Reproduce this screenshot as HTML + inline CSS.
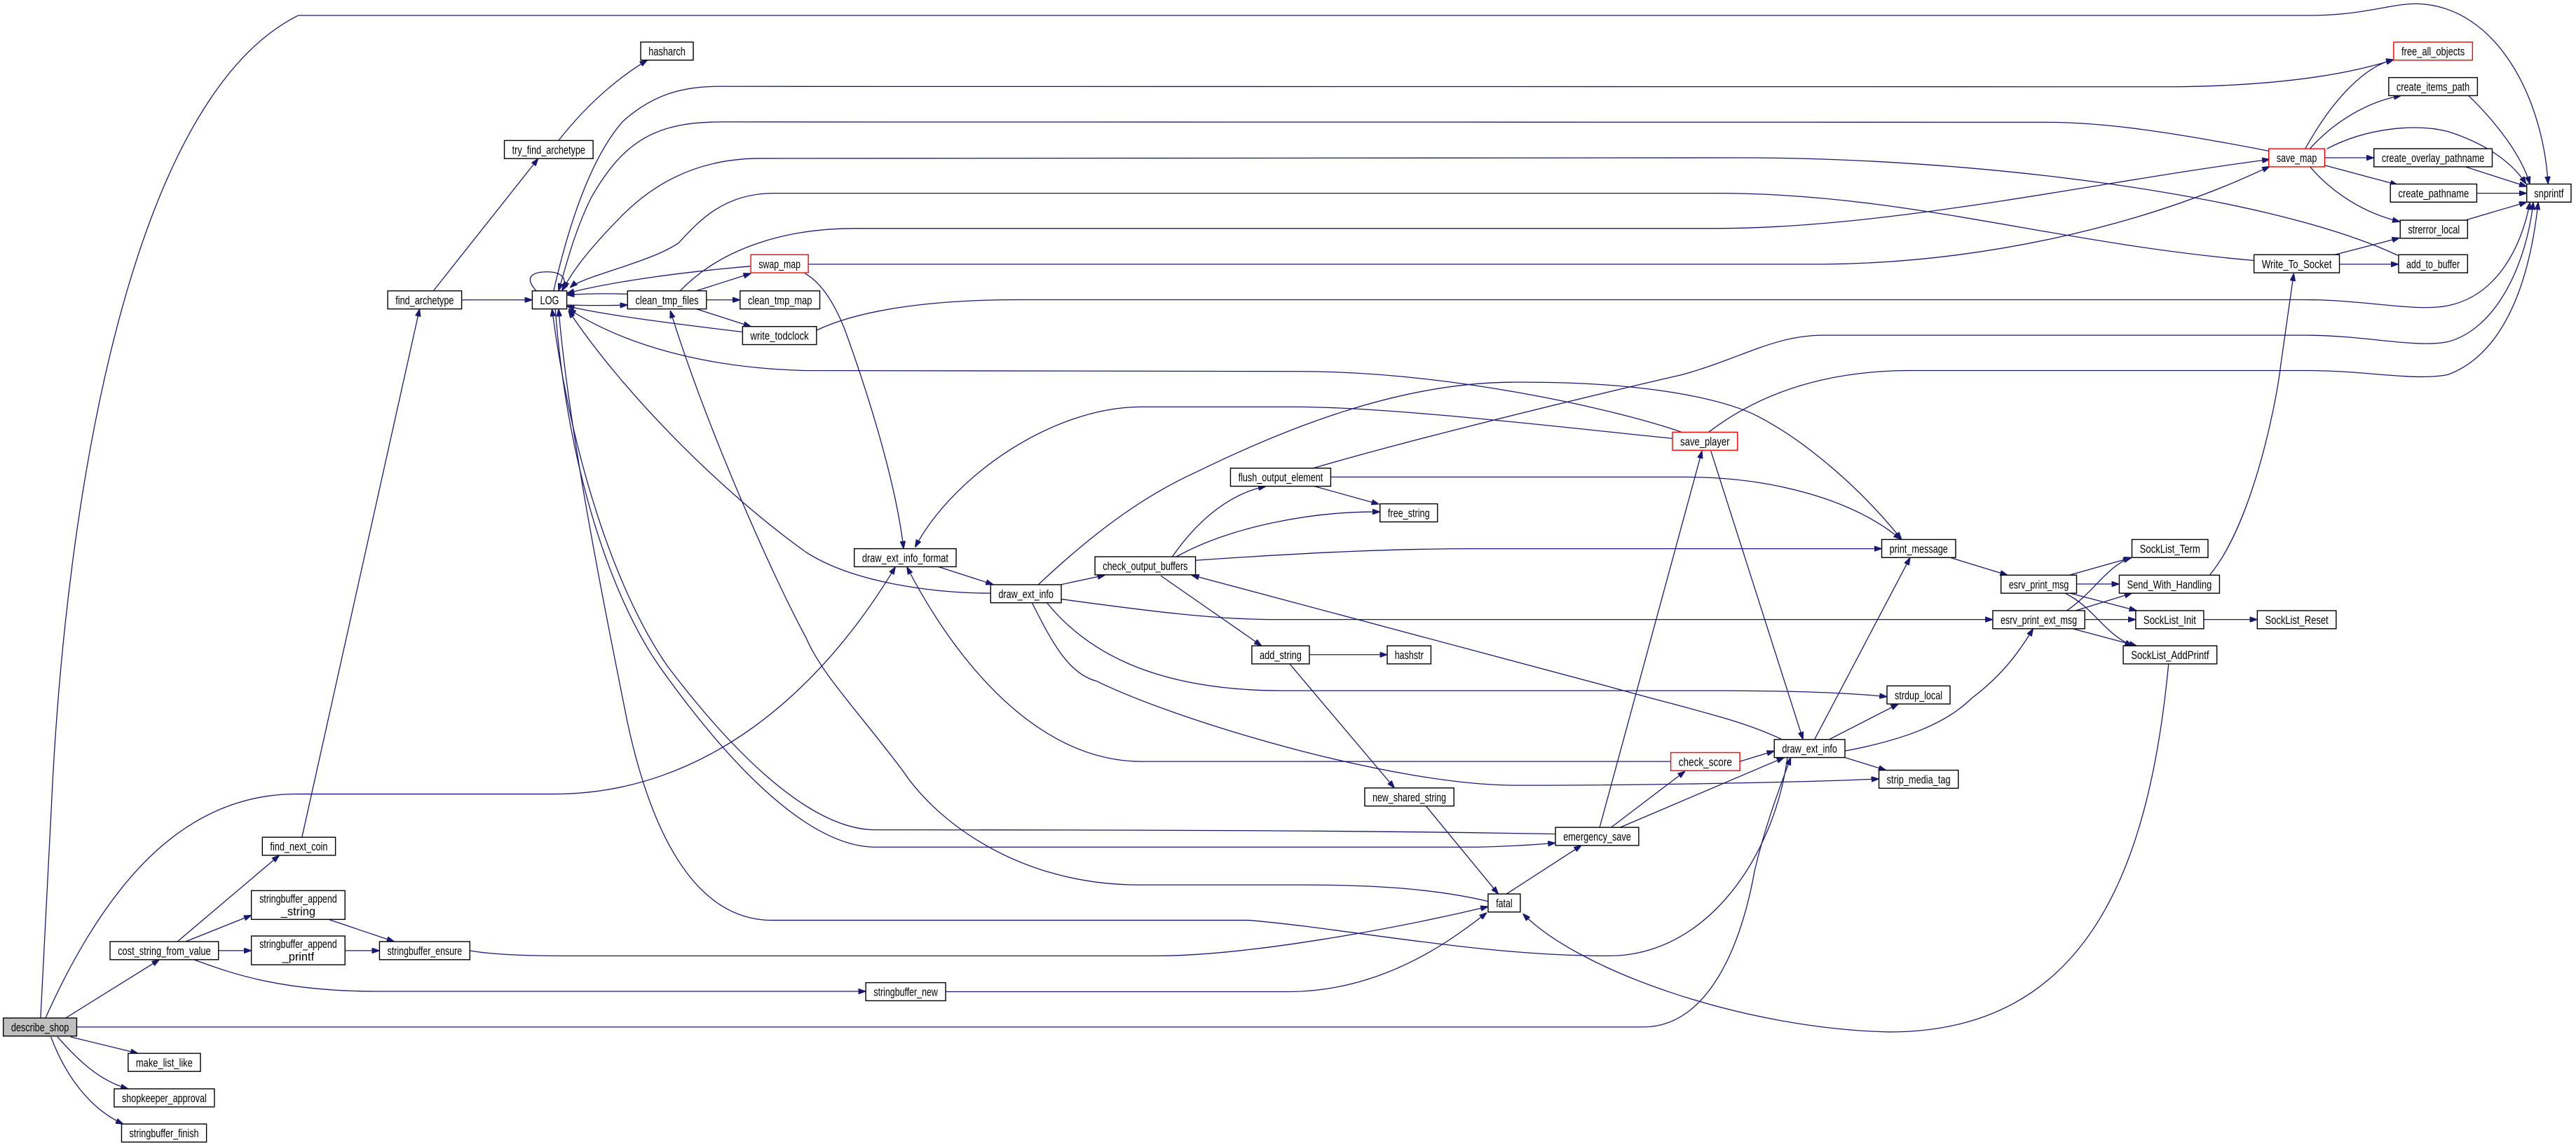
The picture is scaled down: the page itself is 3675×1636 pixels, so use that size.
<!DOCTYPE html>
<html><head><meta charset="utf-8"><style>
html,body{margin:0;padding:0;background:#fff;}
svg{display:block;}
text{font-family:"Liberation Sans",sans-serif;font-size:7px;fill:#000;}
.e{fill:none;stroke:#191970;stroke-width:0.55;marker-end:url(#a);}
.n{fill:#fff;stroke:#000;stroke-width:0.6;}
.r{fill:#fff;stroke:#ff0000;stroke-width:0.6;}
</style></head><body>
<svg width="3675" height="1636" viewBox="0 0 1568 698" preserveAspectRatio="none" xmlns="http://www.w3.org/2000/svg">
<defs><marker id="a" markerUnits="userSpaceOnUse" markerWidth="4.6" markerHeight="3.4" viewBox="0 0 10 7" refX="10" refY="3.5" orient="auto"><path d="M0,0 L10,3.5 L0,7 z" fill="#191970" stroke="#191970"/></marker></defs>
<rect x="0" y="0" width="1568" height="698" fill="#fff"/>
<g>
<path class="e" d="M24.7,619.5 L31.3,490.6 C40,300 80,60 181.5,9.4 L1405,9.4 C1440,9.4 1455,2 1471.6,2.3 C1520,4 1548,60 1551,112"/>
<path class="e" d="M27.7,619.5 C70,525 120,483 181,483.2 L337.7,483.2 C430,483 500,420 545,345"/>
<path class="e" d="M40,619.5 L97,584"/>
<path class="e" d="M46.7,625 L1000,625 C1040,625 1060,575 1068,530 C1075,500 1085,475 1090,461"/>
<path class="e" d="M43,631 L84,641"/>
<path class="e" d="M35,631 C50,648 62,658 78,662.6"/>
<path class="e" d="M31,631 C40,655 55,675 75,684"/>
<path class="e" d="M108,573 L170,520.5"/>
<path class="e" d="M113,573 L153,557"/>
<path class="e" d="M133,578.5 L153,578.5"/>
<path class="e" d="M118,584 C140,592 170,603.3 230,603.3 L527,603.3"/>
<path class="e" d="M200,559.5 L240,573"/>
<path class="e" d="M210,578.5 L231,578.5"/>
<path class="e" d="M286,578.5 C300,581 320,581.7 350,581.7 L703,581.7 C760,581.7 850,565 905.8,551.7"/>
<path class="e" d="M575.6,603.5 L785,603.5 C840,603 880,575 905,555.4"/>
<path class="e" d="M868,490.5 L912,544"/>
<path class="e" d="M917,544 L962.6,514.5"/>
<path class="e" d="M905.8,548.5 C870,540 830,538.5 792,538.5 L692,538.5 C620,538 570,500 549.5,469 C520,430 500,410 490.6,388 C470,350 430,260 408,189"/>
<path class="e" d="M183.8,509.5 L255.4,188"/>
<path class="e" d="M263.8,177 L327.6,96.5"/>
<path class="e" d="M340,85.5 C360,60 380,45 394,36.6"/>
<path class="e" d="M281,182.5 L324,182.5"/>
<path class="e" d="M326.5,177 C318,168 325,165 335,165.5 C342,166 346,170 342,177"/>
<path class="e" d="M382.5,179 C370,178.5 355,178.7 345,179.5"/>
<path class="e" d="M345,185.6 C360,186 370,186 382,185.6"/>
<path class="e" d="M423.8,177 L457.1,166.4"/>
<path class="e" d="M430,182.5 L450.5,182.5"/>
<path class="e" d="M423.8,188 L457.1,198.7"/>
<path class="e" d="M452,202 C410,197 370,192 345,186.3"/>
<path class="e" d="M457,162 C410,166 370,172 345,178.5"/>
<path class="e" d="M492,160.8 L1110,160.8 C1200,160 1300,140 1381.5,101.3"/>
<path class="e" d="M490,166.4 C500,172 508,185 514,200 C525,230 545,290 550,333.9"/>
<path class="e" d="M414,177 C440,150 480,139 520,139 L1045,139 C1150,139 1280,110 1381.5,97"/>
<path class="e" d="M337,177 C350,120 365,90 379,74 C400,55 420,52 445,52.6 L1325,52.8 C1390,52 1430,45 1457,36.3"/>
<path class="e" d="M1381.5,92 C1320,80 1280,74.4 1246,74.4 L440,74.2 C400,74 380,85 360,120 C350,140 345,160 340,177"/>
<path class="e" d="M1459.5,155.4 C1380,118 1200,96 1060,96 L461,96.4 C420,97 395,115 379,130.8 C360,150 348,165 343,176"/>
<path class="e" d="M1371.8,158.5 C1250,148 1160,117.6 1045,117.6 L470,117.6 C440,118 425,135 413,147.9 C395,160 355,168 347,175"/>
<path class="e" d="M497,201 C520,190 560,182.4 620,182.4 L1403,182.4 C1440,182.4 1470,190 1490,186 C1520,180 1535,150 1540,123"/>
<path class="e" d="M799,285 C850,270 950,245 1024,228 C1060,218 1080,204 1110,204 L1403,204 C1440,204 1470,212 1490,208 C1520,200 1538,160 1542,123"/>
<path class="e" d="M1040,263 C1070,240 1110,225.5 1163,225.5 L1405,225.5 C1440,225.5 1470,232 1490,228 C1525,215 1540,170 1545,123"/>
<path class="e" d="M1023.7,263 C980,248 880,226 790,226 L490,225.5 C430,224 380,210 346,188"/>
<path class="e" d="M1019.6,267 C950,260 850,248 790,247.6 L694,247.6 C640,248 580,290 557,333"/>
<path class="e" d="M1041.4,274.4 L1097.5,450"/>
<path class="e" d="M973.7,503.5 L1036,274.4"/>
<path class="e" d="M980.7,503.5 L1025.7,469.3"/>
<path class="e" d="M986.2,503.5 L1086,461"/>
<path class="e" d="M1059,463.4 L1080,457"/>
<path class="e" d="M1017,463.4 L694.6,463.4 C620,463 570,380 552,345"/>
<path class="e" d="M570.5,344.7 L604.6,355.7"/>
<path class="e" d="M646,355.7 L672.6,350"/>
<path class="e" d="M603,361 C570,361 520,355 490.6,336 C440,300 380,240 346,189"/>
<path class="e" d="M632,355.8 C670,320 700,300 728.7,287 C780,262 850,233 920,232.6 C990,232 1040,240 1066.7,251.7 C1100,268 1135,300 1157.5,328.3"/>
<path class="e" d="M646,364.6 C700,372 740,377 776,377 L1213,377"/>
<path class="e" d="M637,366.5 C660,395 700,420 780,420.3 L1050,420.3 C1100,420.5 1130,422 1148.6,424"/>
<path class="e" d="M628,366.5 C640,390 650,410 667.5,414.5 C720,440 850,478 922.6,477.9 C1000,478 1100,476 1143.7,474"/>
<path class="e" d="M713.6,338.8 C730,315 750,300 770.5,296"/>
<path class="e" d="M716,338.8 C750,320 800,311 840,311.5"/>
<path class="e" d="M799.6,295.8 L839.4,306.8"/>
<path class="e" d="M727.7,341 C800,336 850,333.9 900,333.9 L1145.4,333.9"/>
<path class="e" d="M706.6,350.4 L767.9,393"/>
<path class="e" d="M797,398.4 L844.4,398.4"/>
<path class="e" d="M785,404 L848.8,479.5"/>
<path class="e" d="M1084.7,450 C1060,438 1030,432 980,418 L725.3,350"/>
<path class="e" d="M810,290.3 L1024,290.3 C1080,290 1130,305 1157,328.3"/>
<path class="e" d="M1088,461 C1080,520 1040,581.7 979,581.7 C900,581.7 820,565 760,560 L470,560 C420,560 395,500 382,440 C366,360 346,260 340,188"/>
<path class="e" d="M338,188 C345,280 370,360 401,405 C440,460 490,515.5 533,515.5 L900,515.5 C920,515 935,514 946.8,513"/>
<path class="e" d="M946.8,507.5 C900,507 850,505 533,505 C490,505 440,450 406,405 C375,360 348,280 336,188"/>
<path class="e" d="M1104.5,450 L1162.7,339.3"/>
<path class="e" d="M1113.4,450 L1155.5,428.4"/>
<path class="e" d="M1123,461 L1148,468.7"/>
<path class="e" d="M1123,457 C1160,450 1185,440 1200,425 C1220,410 1230,395 1237.6,382.6"/>
<path class="e" d="M1187,339.3 L1222,350"/>
<path class="e" d="M1259.5,350 L1297.6,339.3"/>
<path class="e" d="M1264,355.4 L1290,355.4"/>
<path class="e" d="M1260,361 L1300.6,371.6"/>
<path class="e" d="M1257,361 C1275,370 1280,385 1298,393"/>
<path class="e" d="M1258,371.6 C1275,360 1282,345 1297,339.3"/>
<path class="e" d="M1263.4,371.6 L1297.7,361"/>
<path class="e" d="M1269,377 L1300,377"/>
<path class="e" d="M1261.6,382.6 L1300.6,393"/>
<path class="e" d="M1341.4,377 L1374,377"/>
<path class="e" d="M1345,350 C1370,320 1385,250 1388.3,221.9 L1396.2,166.4"/>
<path class="e" d="M1320,404 C1308,530 1270,628 1150,628 C1060,626 960,590 927,556"/>
<path class="e" d="M1403.2,90.5 C1420,60 1440,40 1457,36.3"/>
<path class="e" d="M1406,90.5 C1420,75 1440,62 1461.6,58.2"/>
<path class="e" d="M1416.5,90.5 C1440,78 1470,75 1490,80 C1515,88 1530,100 1537.6,112"/>
<path class="e" d="M1415,96 L1445,96"/>
<path class="e" d="M1415,100.6 L1459.5,112.5"/>
<path class="e" d="M1406,101.3 C1420,118 1440,130 1460.8,134.9"/>
<path class="e" d="M1502.6,58.2 C1520,75 1535,95 1539.9,112"/>
<path class="e" d="M1500,101.3 L1538,113.5"/>
<path class="e" d="M1507.6,117.6 L1538,117.6"/>
<path class="e" d="M1501.3,133.8 L1538,123"/>
<path class="e" d="M1419.6,155.4 L1460.6,144.8"/>
<path class="e" d="M1424,160.8 L1460,160.8"/>
</g>
<g text-anchor="middle">
<rect x="2" y="619.5" width="44.7" height="11" fill="#bfbfbf" stroke="#000" stroke-width="0.6"/><text x="24.35" y="627.6" textLength="35.2" lengthAdjust="spacingAndGlyphs">describe_shop</text>
<rect class="n" x="78" y="641" width="44" height="11"/><text x="100" y="649.1" textLength="34.5" lengthAdjust="spacingAndGlyphs">make_list_like</text>
<rect class="n" x="69.5" y="662.6" width="61" height="11"/><text x="100" y="670.7" textLength="51.5" lengthAdjust="spacingAndGlyphs">shopkeeper_approval</text>
<rect class="n" x="74" y="684" width="51.7" height="11"/><text x="99.85" y="692.1" textLength="42.2" lengthAdjust="spacingAndGlyphs">stringbuffer_finish</text>
<rect class="n" x="67" y="573" width="66" height="11"/><text x="100" y="581.1" textLength="56.5" lengthAdjust="spacingAndGlyphs">cost_string_from_value</text>
<rect class="n" x="159.7" y="509.5" width="44.5" height="11"/><text x="181.95" y="517.6" textLength="35" lengthAdjust="spacingAndGlyphs">find_next_coin</text>
<rect class="n" x="153" y="542" width="57" height="17.5"/><text x="181.5" y="549.3" textLength="47.2" lengthAdjust="spacingAndGlyphs">stringbuffer_append</text><text x="181.5" y="557">_string</text>
<rect class="n" x="153" y="569.6" width="57" height="17.5"/><text x="181.5" y="576.9" textLength="47.2" lengthAdjust="spacingAndGlyphs">stringbuffer_append</text><text x="181.5" y="584.6">_printf</text>
<rect class="n" x="231" y="573" width="55" height="11"/><text x="258.5" y="581.1" textLength="45.5" lengthAdjust="spacingAndGlyphs">stringbuffer_ensure</text>
<rect class="n" x="527" y="598" width="48.6" height="11"/><text x="551.3" y="606.1" textLength="39" lengthAdjust="spacingAndGlyphs">stringbuffer_new</text>
<rect class="n" x="905.8" y="544" width="19.6" height="11"/><text x="915.6" y="552.1" textLength="10" lengthAdjust="spacingAndGlyphs">fatal</text>
<rect class="n" x="830.7" y="479.5" width="54.3" height="11"/><text x="857.85" y="487.6" textLength="44.8" lengthAdjust="spacingAndGlyphs">new_shared_string</text>
<rect class="n" x="946.8" y="503.5" width="50.7" height="11"/><text x="972.15" y="511.6" textLength="41.2" lengthAdjust="spacingAndGlyphs">emergency_save</text>
<rect class="n" x="236" y="177" width="45" height="11"/><text x="258.5" y="185.1" textLength="35.5" lengthAdjust="spacingAndGlyphs">find_archetype</text>
<rect class="n" x="307" y="85.5" width="54" height="11"/><text x="334" y="93.6" textLength="44.5" lengthAdjust="spacingAndGlyphs">try_find_archetype</text>
<rect class="n" x="390" y="25.6" width="32" height="11"/><text x="406" y="33.7" textLength="22.5" lengthAdjust="spacingAndGlyphs">hasharch</text>
<rect class="n" x="324" y="177" width="21" height="11"/><text x="334.5" y="185.1" textLength="11.5" lengthAdjust="spacingAndGlyphs">LOG</text>
<rect class="n" x="382" y="177" width="48" height="11"/><text x="406" y="185.1" textLength="38.5" lengthAdjust="spacingAndGlyphs">clean_tmp_files</text>
<rect class="n" x="450.5" y="177" width="48.5" height="11"/><text x="474.75" y="185.1" textLength="39" lengthAdjust="spacingAndGlyphs">clean_tmp_map</text>
<rect class="r" x="457" y="155" width="35" height="11"/><text x="474.5" y="163.1" textLength="25.5" lengthAdjust="spacingAndGlyphs">swap_map</text>
<rect class="n" x="452" y="198.7" width="45" height="11"/><text x="474.5" y="206.8" textLength="35.5" lengthAdjust="spacingAndGlyphs">write_todclock</text>
<rect class="n" x="520" y="333.9" width="62" height="11"/><text x="551" y="342" textLength="52.5" lengthAdjust="spacingAndGlyphs">draw_ext_info_format</text>
<rect class="n" x="603" y="355.8" width="43" height="11"/><text x="624.5" y="363.9" textLength="33.5" lengthAdjust="spacingAndGlyphs">draw_ext_info</text>
<rect class="n" x="666.5" y="338.8" width="61.2" height="11"/><text x="697.1" y="346.9" textLength="51.7" lengthAdjust="spacingAndGlyphs">check_output_buffers</text>
<rect class="n" x="749" y="284.9" width="61" height="11"/><text x="779.5" y="293" textLength="51.5" lengthAdjust="spacingAndGlyphs">flush_output_element</text>
<rect class="n" x="840" y="306.6" width="35" height="11"/><text x="857.5" y="314.7" textLength="25.5" lengthAdjust="spacingAndGlyphs">free_string</text>
<rect class="n" x="762" y="393" width="35" height="11"/><text x="779.5" y="401.1" textLength="25.5" lengthAdjust="spacingAndGlyphs">add_string</text>
<rect class="n" x="844.4" y="393" width="26.6" height="11"/><text x="857.7" y="401.1" textLength="17.5" lengthAdjust="spacingAndGlyphs">hashstr</text>
<rect class="r" x="1018" y="263" width="39.6" height="11"/><text x="1037.8" y="271.1" textLength="30" lengthAdjust="spacingAndGlyphs">save_player</text>
<rect class="r" x="1017" y="458" width="42" height="11"/><text x="1038" y="466.1" textLength="32.5" lengthAdjust="spacingAndGlyphs">check_score</text>
<rect class="n" x="1080" y="450" width="43" height="11"/><text x="1101.5" y="458.1" textLength="33.5" lengthAdjust="spacingAndGlyphs">draw_ext_info</text>
<rect class="n" x="1145.4" y="328.3" width="45" height="11"/><text x="1167.9" y="336.4" textLength="35.5" lengthAdjust="spacingAndGlyphs">print_message</text>
<rect class="n" x="1148.6" y="417.4" width="38.4" height="11"/><text x="1167.8" y="425.5" textLength="29" lengthAdjust="spacingAndGlyphs">strdup_local</text>
<rect class="n" x="1143.7" y="468.7" width="48.3" height="11"/><text x="1167.85" y="476.8" textLength="38.8" lengthAdjust="spacingAndGlyphs">strip_media_tag</text>
<rect class="n" x="1218" y="350" width="46" height="11"/><text x="1241" y="358.1" textLength="36.5" lengthAdjust="spacingAndGlyphs">esrv_print_msg</text>
<rect class="n" x="1213" y="371.6" width="56" height="11"/><text x="1241" y="379.7" textLength="46.5" lengthAdjust="spacingAndGlyphs">esrv_print_ext_msg</text>
<rect class="n" x="1297.7" y="328.3" width="46.3" height="11"/><text x="1320.85" y="336.4" textLength="36.8" lengthAdjust="spacingAndGlyphs">SockList_Term</text>
<rect class="n" x="1290" y="350" width="61" height="11"/><text x="1320.5" y="358.1" textLength="51.5" lengthAdjust="spacingAndGlyphs">Send_With_Handling</text>
<rect class="n" x="1300" y="371.6" width="41.4" height="11"/><text x="1320.7" y="379.7" textLength="32" lengthAdjust="spacingAndGlyphs">SockList_Init</text>
<rect class="n" x="1374" y="371.6" width="48" height="11"/><text x="1398" y="379.7" textLength="38.5" lengthAdjust="spacingAndGlyphs">SockList_Reset</text>
<rect class="n" x="1292.4" y="393" width="57" height="11"/><text x="1320.9" y="401.1" textLength="47.5" lengthAdjust="spacingAndGlyphs">SockList_AddPrintf</text>
<rect class="r" x="1457" y="25.6" width="48" height="11"/><text x="1481" y="33.7" textLength="38.5" lengthAdjust="spacingAndGlyphs">free_all_objects</text>
<rect class="n" x="1454" y="47.2" width="54" height="11"/><text x="1481" y="55.3" textLength="44.5" lengthAdjust="spacingAndGlyphs">create_items_path</text>
<rect class="r" x="1381" y="90.5" width="34" height="11"/><text x="1398" y="98.6" textLength="24.5" lengthAdjust="spacingAndGlyphs">save_map</text>
<rect class="n" x="1445" y="90.5" width="72" height="11"/><text x="1481" y="98.6" textLength="62.5" lengthAdjust="spacingAndGlyphs">create_overlay_pathname</text>
<rect class="n" x="1455" y="112" width="52.6" height="11"/><text x="1481.3" y="120.1" textLength="43" lengthAdjust="spacingAndGlyphs">create_pathname</text>
<rect class="n" x="1538" y="112" width="27" height="11"/><text x="1551.5" y="120.1" textLength="18" lengthAdjust="spacingAndGlyphs">snprintf</text>
<rect class="n" x="1461" y="134" width="41" height="11"/><text x="1481.5" y="142.1" textLength="31.5" lengthAdjust="spacingAndGlyphs">strerror_local</text>
<rect class="n" x="1372" y="155" width="52" height="11"/><text x="1398" y="163.1" textLength="42.5" lengthAdjust="spacingAndGlyphs">Write_To_Socket</text>
<rect class="n" x="1460" y="155" width="42" height="11"/><text x="1481" y="163.1" textLength="32.5" lengthAdjust="spacingAndGlyphs">add_to_buffer</text>
</g>
</svg>
</body></html>
